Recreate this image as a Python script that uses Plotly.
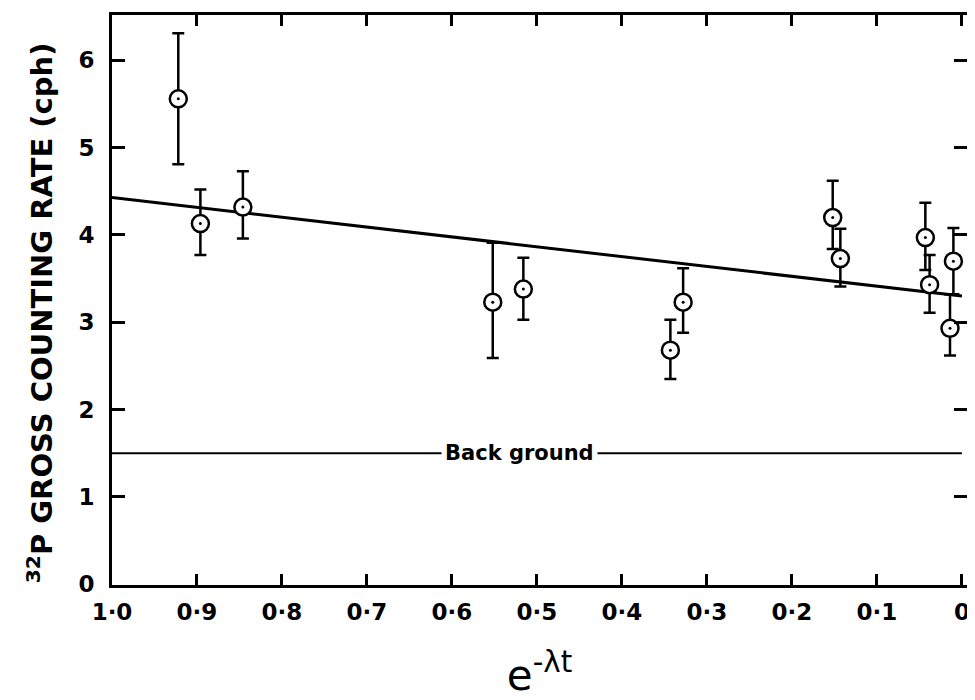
import plotly.graph_objects as go

# Data
x_vals = [0.922, 0.896, 0.846, 0.552, 0.516, 0.343, 0.328, 0.152, 0.143, 0.043, 0.038, 0.010, 0.014]
y_vals = [5.56, 4.13, 4.32, 3.23, 3.38, 2.68, 3.23, 4.20, 3.73, 3.97, 3.43, 3.70, 2.93]
err_plus = [0.75, 0.39, 0.41, 0.68, 0.36, 0.35, 0.39, 0.42, 0.34, 0.40, 0.34, 0.38, 0.39]
err_minus = [0.75, 0.36, 0.36, 0.64, 0.35, 0.33, 0.35, 0.36, 0.32, 0.37, 0.32, 0.38, 0.31]

fit_x = [1.0, 0.0]
fit_y = [4.43, 3.30]

bg_x = [1.0, 0.0]
bg_y = [1.5, 1.5]

x_ticks = [1.0, 0.9, 0.8, 0.7, 0.6, 0.5, 0.4, 0.3, 0.2, 0.1, 0.0]
x_ticktext = ["1·0", "0·9", "0·8", "0·7", "0·6", "0·5", "0·4", "0·3", "0·2", "0·1", "0"]
y_ticks = [0, 1, 2, 3, 4, 5, 6]
y_ticktext = ["0", "1", "2", "3", "4", "5", "6"]

FONT = "DejaVu Sans"

fig = go.Figure()

# Background line
fig.add_trace(go.Scatter(x=bg_x, y=bg_y, mode="lines",
                         line=dict(color="black", width=2), showlegend=False))

# Fitted line
fig.add_trace(go.Scatter(x=fit_x, y=fit_y, mode="lines",
                         line=dict(color="black", width=3), showlegend=False))

# Data points with error bars
fig.add_trace(go.Scatter(
    x=x_vals, y=y_vals, mode="markers",
    marker=dict(symbol="circle", size=17, color="white",
                line=dict(color="black", width=2.5)),
    error_y=dict(type="data", symmetric=False, array=err_plus, arrayminus=err_minus,
                 color="black", thickness=2.5, width=6),
    showlegend=False))

# Centre dots
fig.add_trace(go.Scatter(
    x=x_vals, y=y_vals, mode="markers",
    marker=dict(symbol="circle", size=3, color="black"),
    showlegend=False))

fig.add_annotation(x=0.52, y=1.5, xref="x", yref="y", text="<b>Back ground</b>",
                   showarrow=False, bgcolor="white", borderpad=3,
                   font=dict(family=FONT, size=21, color="black"))

# Y-axis title
fig.add_annotation(
    x=-0.084, y=0.477, xref="paper", yref="paper",
    text="<b><sup>32</sup>P GROSS COUNTING RATE (cph)</b>",
    textangle=-90, showarrow=False, xanchor="center", yanchor="middle",
    font=dict(family=FONT, size=29, color="black"))

fig.update_layout(
    width=967, height=692,
    margin=dict(l=104, r=8, t=7, b=115),
    paper_bgcolor="white", plot_bgcolor="white",
    font=dict(family=FONT, color="black"),
)

fig.update_xaxes(
    range=[1.0, -0.006], tickvals=x_ticks, ticktext=["<b>%s</b>" % t for t in x_ticktext],
    showgrid=False, zeroline=False, automargin=False,
    showline=True, linecolor="black", linewidth=3, mirror="allticks",
    ticks="inside", ticklen=11, tickwidth=2.5, tickcolor="black",
    tickfont=dict(family=FONT, size=23, color="black"),
    ticklabelstandoff=4,
    title=dict(text="e<sup>-λt</sup>", font=dict(family=FONT, size=42, color="black"),
               standoff=45),
)

fig.update_yaxes(
    range=[-0.01, 6.52], tickvals=y_ticks, ticktext=["<b>%s</b>" % t for t in y_ticktext],
    showgrid=False, zeroline=False, automargin=False,
    showline=True, linecolor="black", linewidth=3, mirror="allticks",
    ticks="inside", ticklen=13, tickwidth=2.5, tickcolor="black",
    tickfont=dict(family=FONT, size=23, color="black"),
    ticklabelstandoff=10,
)

fig.write_html("out.html")
